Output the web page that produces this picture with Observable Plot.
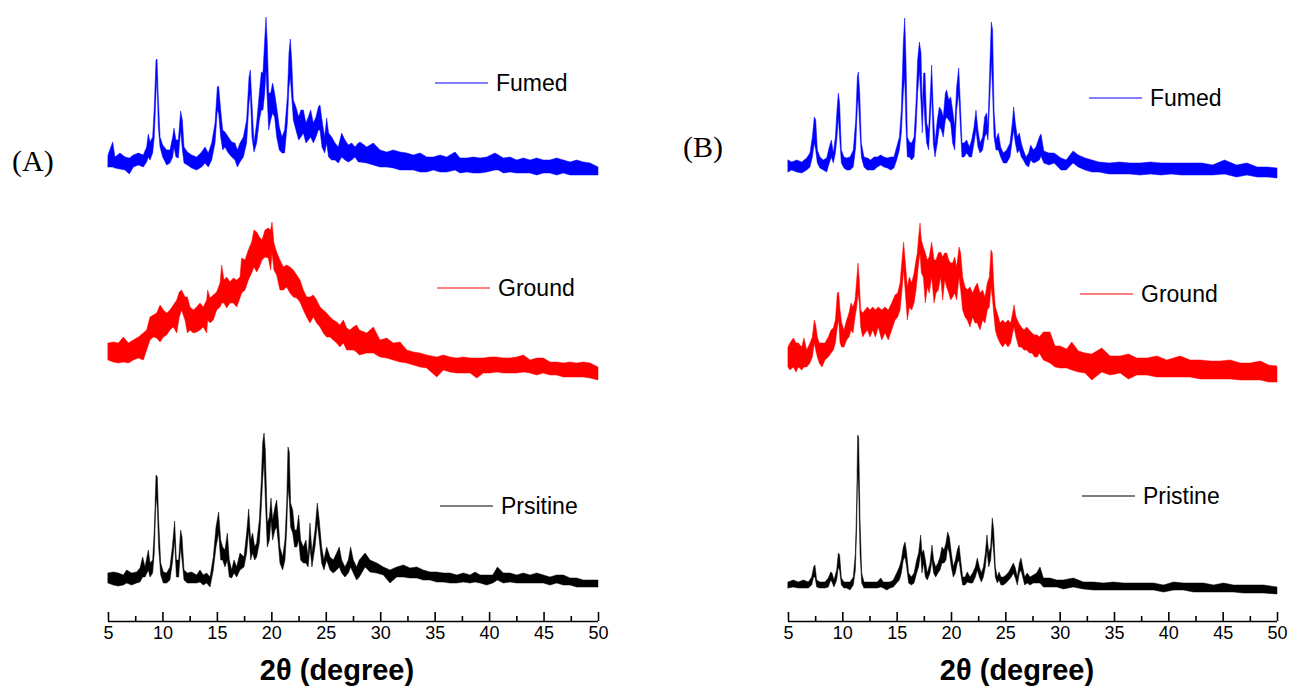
<!DOCTYPE html>
<html><head><meta charset="utf-8">
<script src="https://cdn.jsdelivr.net/npm/d3@7"></script>
<script src="https://cdn.jsdelivr.net/npm/@observablehq/plot@0.6"></script>
<style>
body{margin:0;background:#fff;}
#wrap{position:relative;width:1290px;height:693px;overflow:hidden;background:#fff;font-family:"Liberation Sans",Arial,sans-serif;}
.panel{position:absolute;top:0;}
.leg{position:absolute;display:flex;align-items:center;font-size:23px;color:#000;transform:translateY(-50%);white-space:nowrap;line-height:1;}
.leg .sw{display:inline-block;width:53px;height:0;border-top:1.5px solid;margin-right:8px;}
.tag{position:absolute;font-family:"Liberation Serif","Times New Roman",serif;font-size:30px;transform:translateY(-50%);line-height:1;}
.xtitle{position:absolute;font-weight:bold;font-size:29px;line-height:1;transform:translate(-50%,-50%);white-space:nowrap;color:#000;}
</style>
</head><body>
<div id="wrap"></div>
<script>
// 2θ tick values
const majorTicks = [5,10,15,20,25,30,35,40,45,50];
const minorTicks = [7.5,12.5,17.5,22.5,27.5,32.5,37.5,42.5,47.5];
const xLabel = "2θ (degree)";

// each row: [2θ, lower edge of noisy trace, upper edge] (intensity a.u., stacked with offset)
const fumedA = [[5.0,454,466],[5.43,454,479],[5.64,453,464],[6.1,452,468],[6.56,451,464],[6.96,447,463],[7.33,454,466],[7.79,456,468],[8.24,454,466],[8.55,459,474],[8.7,464,487],[8.86,461,479],[9.1,468,484],[9.25,484,514],[9.41,528,561],[9.5,544,562],[9.62,494,524],[9.78,474,484],[10.02,464,476],[10.39,456,471],[10.69,458,471],[10.94,464,484],[11.06,474,493],[11.24,464,481],[11.46,463,481],[11.67,491,510],[11.83,471,501],[11.98,458,474],[12.29,456,469],[12.68,453,466],[13.14,451,464],[13.6,454,469],[13.91,458,474],[14.21,454,468],[14.52,461,478],[14.83,478,498],[15.04,511,534],[15.16,508,535],[15.35,484,511],[15.53,471,491],[15.74,474,489],[16.05,468,484],[16.36,464,479],[16.66,461,478],[16.88,454,471],[17.12,459,478],[17.43,464,484],[17.73,478,501],[17.95,518,544],[18.07,528,551],[18.22,484,518],[18.41,469,478],[18.65,478,498],[18.9,501,528],[19.08,511,549],[19.23,511,548],[19.39,528,581],[19.51,551,604],[19.63,521,578],[19.76,491,528],[19.94,501,528],[20.12,508,538],[20.3,504,528],[20.49,484,514],[20.73,471,494],[20.98,468,484],[21.22,468,491],[21.47,498,524],[21.62,534,568],[21.74,544,582],[21.87,524,561],[22.02,501,521],[22.26,491,514],[22.51,481,504],[22.72,484,511],[22.94,488,511],[23.18,478,498],[23.4,481,504],[23.61,484,511],[23.86,478,498],[24.1,484,504],[24.32,491,514],[24.47,491,516],[24.65,474,501],[24.9,468,484],[25.08,478,503],[25.26,464,488],[25.54,461,484],[25.85,461,478],[26.15,458,474],[26.46,464,488],[26.76,461,481],[27.07,459,476],[27.38,461,478],[27.68,464,474],[27.99,459,478],[28.15,459,479],[28.76,458,474],[29.37,456,478],[29.98,454,471],[30.6,454,469],[31.2,453,471],[31.82,451,469],[32.43,451,468],[33.04,451,466],[33.66,449,468],[34.27,449,464],[34.88,451,464],[35.49,449,466],[36.1,449,464],[36.87,451,469],[37.33,448,463],[37.94,449,463],[38.55,448,464],[39.17,448,463],[39.78,449,464],[40.54,451,468],[40.85,451,466],[41.31,448,463],[41.92,449,464],[42.53,448,461],[43.15,448,463],[43.76,448,461],[44.37,446,463],[44.98,448,461],[45.59,448,461],[46.2,446,463],[46.82,448,461],[47.43,446,459],[48.04,446,461],[48.65,446,459],[49.27,446,458],[50.0,446,454]];

const groundA = [[5.0,261,278],[5.49,259,279],[5.95,258,278],[6.41,259,284],[6.87,258,278],[7.33,261,281],[7.79,263,284],[8.24,261,288],[8.55,271,291],[8.86,281,304],[9.16,284,306],[9.47,283,308],[9.78,279,316],[10.08,284,311],[10.39,286,308],[10.69,291,311],[11.0,294,316],[11.31,288,321],[11.55,304,329],[11.76,311,331],[12.07,301,324],[12.29,288,324],[12.53,291,314],[12.84,288,311],[13.14,289,314],[13.45,291,318],[13.75,294,314],[14.06,288,321],[14.15,301,331],[14.37,298,323],[14.67,301,326],[14.98,311,329],[15.29,314,338],[15.44,318,356],[15.65,318,341],[15.9,313,344],[16.2,318,339],[16.51,318,343],[16.82,314,341],[17.12,323,344],[17.27,328,363],[17.58,331,361],[17.89,341,371],[18.19,348,379],[18.41,354,391],[18.65,349,389],[18.9,354,384],[19.14,361,381],[19.42,364,391],[19.72,363,393],[19.94,351,391],[20.06,368,399],[20.24,351,378],[20.49,346,369],[20.79,331,361],[21.1,331,354],[21.41,334,356],[21.71,328,354],[22.02,324,351],[22.33,323,346],[22.63,319,341],[22.94,311,331],[23.24,304,324],[23.55,298,324],[23.86,304,326],[24.16,298,321],[24.47,294,314],[24.77,288,311],[25.08,284,308],[25.39,284,304],[25.69,281,301],[26.0,278,299],[26.3,274,296],[26.61,278,301],[26.92,271,293],[27.22,271,291],[27.53,271,294],[27.83,269,296],[28.08,266,291],[28.76,268,288],[29.37,268,294],[29.98,264,281],[30.6,263,283],[31.2,261,278],[31.82,259,279],[32.43,258,271],[33.04,256,269],[33.66,254,268],[34.27,253,266],[35.19,244,264],[35.8,251,266],[36.41,249,264],[37.02,248,263],[37.64,248,264],[38.25,248,263],[38.86,243,263],[39.47,248,263],[40.08,248,264],[40.7,249,264],[41.31,248,263],[41.92,248,263],[42.53,248,264],[43.15,249,266],[43.76,248,261],[44.37,246,263],[44.98,248,263],[45.59,246,259],[46.2,246,259],[46.82,244,258],[47.43,244,259],[48.04,244,258],[48.65,244,259],[49.27,243,258],[50.0,241,254]];

const pristineA = [[5.0,38,48],[5.49,36,49],[5.95,35,48],[6.41,36,46],[6.71,38,51],[7.17,36,48],[7.63,38,49],[7.94,39,53],[8.18,44,64],[8.4,44,54],[8.7,51,71],[8.86,44,58],[9.1,48,61],[9.25,68,91],[9.41,124,146],[9.53,114,144],[9.65,74,101],[9.84,46,58],[10.08,38,49],[10.39,38,48],[10.69,41,54],[10.91,58,74],[11.12,81,100],[11.28,44,61],[11.49,44,61],[11.67,74,91],[11.8,61,84],[11.98,41,51],[12.29,38,48],[12.68,38,49],[13.14,38,46],[13.45,39,51],[13.75,36,46],[14.06,38,48],[14.37,34,44],[14.67,51,64],[14.92,74,94],[15.16,88,109],[15.35,61,81],[15.53,61,74],[15.74,54,71],[15.96,61,88],[16.14,44,61],[16.36,43,51],[16.57,48,61],[16.82,44,54],[17.12,51,68],[17.49,54,64],[17.73,68,88],[17.92,91,112],[18.1,61,81],[18.28,68,88],[18.47,61,74],[18.65,64,78],[18.9,78,101],[19.08,114,141],[19.2,141,178],[19.33,161,188],[19.45,121,171],[19.63,74,98],[19.82,81,104],[19.97,101,123],[20.12,81,101],[20.33,91,114],[20.49,94,121],[20.64,78,101],[20.79,58,74],[21.04,51,64],[21.25,61,81],[21.41,91,118],[21.53,134,174],[21.65,121,169],[21.77,94,118],[21.96,88,111],[22.14,74,91],[22.33,74,91],[22.51,81,106],[22.69,61,81],[22.94,58,74],[23.18,58,81],[23.37,54,64],[23.55,74,98],[23.73,54,68],[24.01,74,91],[24.22,98,118],[24.4,81,101],[24.62,58,74],[24.83,51,61],[25.08,61,74],[25.39,51,64],[25.69,48,61],[26.0,51,68],[26.24,54,74],[26.46,48,61],[26.76,44,54],[27.07,48,61],[27.28,54,74],[27.53,48,61],[27.83,41,54],[28.08,44,61],[28.61,54,68],[29.06,49,61],[29.68,48,58],[30.29,46,54],[30.9,38,51],[31.51,44,54],[32.13,44,56],[32.74,43,53],[33.35,43,54],[33.96,41,51],[34.57,41,49],[35.19,39,49],[35.8,39,48],[36.41,38,48],[37.02,38,46],[37.64,39,48],[38.25,38,46],[38.71,39,49],[39.17,38,46],[39.78,36,46],[40.33,38,46],[40.76,41,54],[41.31,38,48],[41.92,39,48],[42.53,38,46],[43.15,38,48],[43.76,38,46],[44.37,38,48],[44.98,38,46],[45.59,36,44],[46.2,38,46],[46.82,36,46],[47.43,36,43],[48.04,34,43],[48.65,34,41],[49.27,34,41],[50.0,34,41]];

const fumedB = [[5.0,449,461],[5.34,451,459],[5.8,449,461],[6.26,448,459],[6.72,451,463],[7.02,454,468],[7.24,464,484],[7.42,478,504],[7.55,471,501],[7.7,458,471],[7.94,453,464],[8.25,451,461],[8.56,449,463],[8.8,458,474],[8.99,464,481],[9.17,458,468],[9.36,468,484],[9.51,484,511],[9.63,504,528],[9.75,484,518],[9.91,458,471],[10.15,453,464],[10.4,451,463],[10.71,451,464],[11.01,454,471],[11.23,474,501],[11.38,514,544],[11.47,524,549],[11.6,494,528],[11.75,464,478],[11.99,454,464],[12.3,451,463],[12.61,451,461],[12.91,451,464],[13.22,454,464],[13.53,456,466],[13.83,454,464],[14.14,453,463],[14.45,451,464],[14.75,453,464],[15.0,461,474],[15.25,471,484],[15.43,488,511],[15.61,528,578],[15.74,544,603],[15.86,494,561],[15.98,464,484],[16.17,464,479],[16.38,461,478],[16.6,464,484],[16.78,491,518],[16.93,528,561],[17.09,551,579],[17.24,518,568],[17.36,488,511],[17.48,524,548],[17.61,498,548],[17.76,478,498],[17.94,471,491],[18.1,504,528],[18.22,528,556],[18.37,478,511],[18.53,464,478],[18.74,478,501],[18.93,494,514],[19.11,491,511],[19.29,484,504],[19.48,501,528],[19.6,504,531],[19.79,501,521],[19.97,498,524],[20.15,478,511],[20.34,471,494],[20.52,511,534],[20.71,528,553],[20.86,494,518],[21.01,464,478],[21.2,464,478],[21.44,468,481],[21.69,464,474],[21.9,464,481],[22.12,478,494],[22.3,491,511],[22.48,474,491],[22.67,468,478],[22.91,471,484],[23.1,484,504],[23.28,488,508],[23.4,481,494],[23.59,528,561],[23.71,561,599],[23.83,528,591],[23.96,484,511],[24.14,471,481],[24.36,471,488],[24.57,464,474],[24.82,458,468],[25.12,458,471],[25.43,464,478],[25.64,481,498],[25.77,491,514],[25.92,478,498],[26.1,468,484],[26.29,471,488],[26.47,464,478],[26.66,461,471],[26.9,456,464],[27.15,454,468],[27.33,461,476],[27.58,458,471],[27.82,459,474],[28.13,461,484],[28.28,465,487],[28.54,458,470],[29.01,456,468],[29.49,458,468],[30.12,451,463],[30.6,451,461],[31.23,458,470],[31.71,454,466],[32.34,451,463],[32.97,449,461],[33.61,449,459],[34.56,447,458],[35.51,447,459],[36.46,447,458],[37.41,446,458],[38.36,447,459],[39.31,446,458],[40.26,447,458],[41.21,446,458],[42.16,446,458],[43.11,446,458],[44.06,446,456],[45.17,447,461],[46.28,444,456],[47.23,446,458],[48.18,444,454],[49.13,444,454],[50.0,443,453]];

const groundB = [[5.0,254,274],[5.18,251,278],[5.49,254,283],[5.74,249,278],[5.95,254,278],[6.26,251,274],[6.47,254,283],[6.72,254,271],[7.02,258,278],[7.24,264,284],[7.42,278,301],[7.55,271,296],[7.7,264,284],[7.88,258,278],[8.13,254,278],[8.4,261,278],[8.71,264,284],[8.96,268,291],[9.17,271,293],[9.36,278,301],[9.54,294,328],[9.66,301,329],[9.79,278,311],[9.94,274,298],[10.15,274,291],[10.4,281,301],[10.61,284,308],[10.8,291,318],[10.98,288,314],[11.17,304,321],[11.32,314,341],[11.44,328,358],[11.56,318,341],[11.69,294,311],[11.87,284,308],[12.09,288,311],[12.3,291,314],[12.55,284,311],[12.79,291,314],[13.04,284,311],[13.31,294,314],[13.62,281,311],[13.93,288,314],[14.23,281,311],[14.54,291,318],[14.85,301,326],[15.09,304,328],[15.31,311,338],[15.49,331,361],[15.64,351,379],[15.8,328,358],[15.98,301,334],[16.17,314,344],[16.38,311,338],[16.6,318,348],[16.78,331,361],[16.9,344,368],[17.02,358,384],[17.15,368,398],[17.27,348,381],[17.45,344,374],[17.64,318,368],[17.82,334,361],[18.0,328,364],[18.22,344,379],[18.44,318,361],[18.62,328,361],[18.83,331,368],[19.05,344,369],[19.23,321,364],[19.42,341,368],[19.6,334,368],[19.79,328,361],[19.97,321,358],[20.15,324,358],[20.34,328,364],[20.52,321,354],[20.74,344,374],[20.89,331,368],[21.07,311,344],[21.29,304,334],[21.5,301,331],[21.75,294,334],[21.99,304,328],[22.21,298,334],[22.42,298,338],[22.67,291,328],[22.91,301,331],[23.13,298,324],[23.34,311,338],[23.53,314,344],[23.68,334,371],[23.8,324,368],[23.96,304,331],[24.08,291,314],[24.26,284,308],[24.51,278,298],[24.75,274,301],[25.0,278,298],[25.25,274,301],[25.49,278,298],[25.67,288,308],[25.8,294,316],[25.98,284,304],[26.23,274,298],[26.47,274,294],[26.72,271,291],[26.96,271,294],[27.21,268,291],[27.45,268,288],[27.7,264,286],[27.94,264,286],[28.13,268,284],[28.5,261,289],[29.11,258,289],[29.57,254,275],[30.03,253,275],[30.65,253,272],[31.11,251,279],[31.72,249,270],[32.34,248,268],[32.95,241,267],[33.87,249,273],[34.64,246,265],[35.56,248,265],[36.33,242,267],[37.1,246,263],[38.02,246,263],[38.94,244,265],[39.86,244,261],[41.09,244,265],[42.01,244,261],[42.93,242,261],[43.85,242,260],[44.78,242,260],[45.7,242,261],[46.62,241,258],[47.54,241,258],[48.46,241,260],[49.23,239,256],[50.0,239,255]];

const pristineB = [[5.0,33,39],[5.49,34,41],[5.95,33,39],[6.41,33,41],[6.87,33,39],[7.18,36,44],[7.36,44,54],[7.48,44,56],[7.64,34,41],[7.94,33,39],[8.4,33,39],[8.71,34,43],[8.93,41,49],[9.05,39,48],[9.23,34,41],[9.48,41,51],[9.63,54,68],[9.75,51,66],[9.91,36,43],[10.15,33,39],[10.4,33,39],[10.71,31,39],[11.01,36,44],[11.2,51,68],[11.32,94,118],[11.41,151,186],[11.5,134,184],[11.63,68,101],[11.78,38,48],[11.99,33,39],[12.3,33,39],[12.61,33,39],[12.91,33,39],[13.22,33,39],[13.53,34,43],[13.77,33,39],[14.08,31,39],[14.39,33,39],[14.69,34,41],[15.0,38,48],[15.25,41,54],[15.43,48,61],[15.61,61,74],[15.77,64,79],[15.92,54,68],[16.1,38,48],[16.35,36,44],[16.6,38,48],[16.84,48,61],[17.02,54,68],[17.21,68,86],[17.33,48,68],[17.48,58,71],[17.64,44,61],[17.82,41,48],[18.07,48,58],[18.25,61,76],[18.4,48,61],[18.59,44,54],[18.8,48,58],[18.99,51,64],[19.17,58,74],[19.36,58,71],[19.54,61,78],[19.69,74,89],[19.85,68,84],[20.03,54,68],[20.21,44,54],[20.4,48,61],[20.58,58,71],[20.74,61,76],[20.89,48,61],[21.07,36,44],[21.29,36,44],[21.5,39,49],[21.75,38,44],[21.99,38,48],[22.24,44,54],[22.42,51,63],[22.61,44,54],[22.79,39,48],[22.98,44,54],[23.16,54,68],[23.31,71,86],[23.47,54,68],[23.65,61,74],[23.8,84,103],[23.93,68,91],[24.08,44,54],[24.26,38,44],[24.42,41,49],[24.6,36,44],[24.82,36,44],[25.06,38,46],[25.31,41,49],[25.55,44,54],[25.74,48,58],[25.92,43,53],[26.1,36,44],[26.29,48,58],[26.44,51,63],[26.6,44,54],[26.78,36,44],[27.02,38,48],[27.27,36,44],[27.58,38,46],[27.88,38,48],[28.19,38,54],[28.5,34,43],[29.11,34,43],[29.73,34,41],[30.34,32,41],[31.26,34,43],[32.18,32,39],[33.1,31,39],[34.03,31,38],[34.95,31,39],[35.87,31,38],[36.79,31,38],[37.71,31,38],[38.63,31,38],[39.56,29,36],[40.48,31,39],[41.4,31,38],[42.32,29,38],[43.24,29,38],[44.16,29,36],[45.08,29,38],[46.0,29,36],[46.93,28,36],[47.85,28,36],[48.77,28,36],[50.0,27,34]];

const namesA = ["Fumed","Ground","Prsitine"];
const namesB = ["Fumed","Ground","Pristine"];
const colors = ["#0000ff","#ff0000","#000000"];
const panelTags = ["(A)","(B)"];

// tick lengths, in y-scale units (1 unit = 1 px here)
const majorLen = 9, minorLen = 5;

function makePanel(series, width, marginRight) {
  return Plot.plot({
    width, height: 693,
    marginLeft: 108, marginRight, marginTop: 0, marginBottom: 72,
    x: {domain: [5, 50]},
    y: {domain: [0, 621], axis: null},
    style: {fontFamily: "'Liberation Sans', Arial, sans-serif", fontSize: "18px", color: "#000", background: "transparent", overflow: "visible"},
    marks: [
      ...series.map((s, i) => Plot.areaY(s, {x: d => d[0], y1: d => d[1], y2: d => d[2], fill: colors[i], stroke: colors[i], strokeWidth: 0.5})),
      Plot.ruleY([0], {stroke: "#000", strokeWidth: 1.5}),
      Plot.ruleX(majorTicks, {x: d => d, y1: 0, y2: majorLen, stroke: "#000", strokeWidth: 1.6}),
      Plot.ruleX(minorTicks, {x: d => d, y1: 0, y2: minorLen, stroke: "#000", strokeWidth: 1.6}),
      Plot.axisX({ticks: majorTicks, tickSize: 0, tickPadding: 5, fontSize: 18, tickFormat: d => String(d), label: null})
    ]
  });
}

const wrap = document.getElementById("wrap");
const pA = makePanel([fumedA, groundA, pristineA], 645, 47);
pA.classList.add("panel"); pA.style.left = "0px";
const pB = makePanel([fumedB, groundB, pristineB], 610, 13);
pB.classList.add("panel"); pB.style.left = "680px";
wrap.appendChild(pA); wrap.appendChild(pB);

function legend(name, color, left, top) {
  const d = document.createElement("div");
  d.className = "leg"; d.style.left = left + "px"; d.style.top = top + "px";
  const sw = document.createElement("span"); sw.className = "sw"; sw.style.borderColor = color;
  const t = document.createElement("span"); t.textContent = name;
  d.appendChild(sw); d.appendChild(t); wrap.appendChild(d);
}
const legPosA = [[435, 83], [437, 288], [440, 506]];
const legPosB = [[1089, 98], [1080, 294], [1082, 496]];
namesA.forEach((n, i) => legend(n, colors[i], legPosA[i][0], legPosA[i][1]));
namesB.forEach((n, i) => legend(n, colors[i], legPosB[i][0], legPosB[i][1]));

[[panelTags[0], 12, 161], [panelTags[1], 683, 147]].forEach(([t, l, y]) => {
  const d = document.createElement("div"); d.className = "tag"; d.textContent = t;
  d.style.left = l + "px"; d.style.top = y + "px"; wrap.appendChild(d);
});

// x-axis titles below each panel
[337, 1017].forEach(cx => {
  const d = document.createElement("div"); d.className = "xtitle"; d.textContent = xLabel;
  d.style.left = cx + "px"; d.style.top = "670px"; wrap.appendChild(d);
});
</script>
</body></html>
